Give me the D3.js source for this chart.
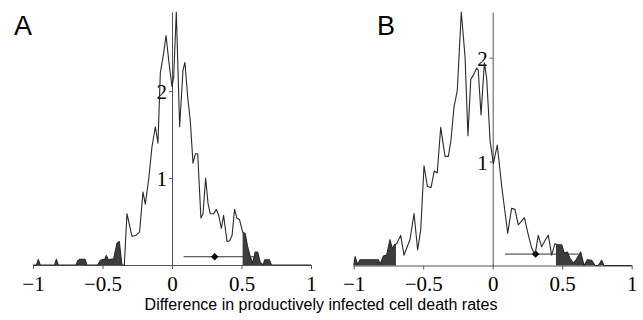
<!DOCTYPE html>
<html>
<head>
<meta charset="utf-8">
<script src="https://cdn.jsdelivr.net/npm/d3@7"></script>
<style>
  html, body { margin: 0; padding: 0; background: #fff; }
  svg { display: block; }
</style>
</head>
<body>
<div id="chart"></div>
<script>
// tick values shared by both panels
const xTicks = [-1, -0.5, 0, 0.5, 1];
const yTicks = [1, 2];

// panel A: density of the difference
const aX = [-1, -0.975, -0.962, -0.948, -0.845, -0.832, -0.818, -0.69, -0.678, -0.665, -0.625, -0.612,
  -0.535, -0.515, -0.5, -0.485, -0.473, -0.458, -0.44, -0.42, -0.396, -0.379, -0.36, -0.343,
  -0.324, -0.288, -0.26, -0.233, -0.209, -0.192, -0.168, -0.144, -0.12, -0.101, -0.084, -0.06,
  -0.043, -0.024, 0, 0.012, 0.031, 0.055, 0.079, 0.093, 0.113, 0.132, 0.151, 0.168, 0.185,
  0.208, 0.223, 0.242, 0.259, 0.275, 0.3, 0.319, 0.336, 0.355, 0.371, 0.396, 0.415, 0.432,
  0.45, 0.467, 0.486, 0.508, 0.527, 0.544, 0.563, 0.58, 0.599, 0.616, 0.635, 0.655, 0.668,
  0.7, 0.715, 1];
const aY = [0, 0, 0.065, 0, 0, 0.065, 0, 0, 0.05, 0.065, 0.065, 0,
  0, 0.05, 0.065, 0.06, 0.11, 0.06, 0.065, 0.07, 0.25, 0.27, 0, 0,
  0.59, 0.33, 0.34, 0.38, 0.84, 0.7, 0.98, 1.36, 1.59, 1.4, 2.21, 2.44,
  2.64, 2.36, 2.05, 2.16, 2.91, 1.59, 2.24, 2.33, 1.93, 1.65, 1.17, 1.28, 1.28,
  0.54, 0.59, 1.0, 0.71, 0.59, 0.59, 0.64, 0.57, 0.42, 0.57, 0.27, 0.28, 0.34,
  0.64, 0.54, 0.52, 0.38, 0.36, 0.21, 0.1, 0.02, 0.15, 0.15, 0.03, 0, 0.06,
  0.06, 0, 0];
const aTails = [-0.343, 0.508];
const aCI = [0.084, 0.59];
const aMean = 0.307;
const aCIy = 0.095;

// panel B
const bX = [-1, -0.99, -0.972, -0.955, -0.823, -0.81, -0.787, -0.763, -0.739, -0.722, -0.708, -0.691,
  -0.662, -0.638, -0.615, -0.595, -0.566, -0.54, -0.518, -0.494, -0.47, -0.444, -0.42, -0.399,
  -0.374, -0.343, -0.319, -0.3, -0.278, -0.255, -0.226, -0.199, -0.178, -0.158, -0.14, -0.115,
  -0.104, -0.084, -0.06, -0.043, -0.019, 0.005, 0.033, 0.065, 0.108, 0.136, 0.16, 0.184,
  0.228, 0.257, 0.28, 0.304, 0.328, 0.352, 0.376, 0.4, 0.424, 0.448, 0.467, 0.496, 0.515,
  0.537, 0.556, 0.58, 0.6, 0.633, 0.657, 0.681, 0.712, 0.736, 0.76, 0.784, 0.8, 1];
const bY = [0, 0.087, 0.01, 0.055, 0.055, 0.015, 0.09, 0.1, 0.25, 0.16, 0.2, 0.21,
  0.29, 0.1, 0.18, 0.25, 0.5, 0.15, 0.34, 0.96, 0.76, 0.75, 0.91, 0.89,
  1.33, 1.05, 1.05, 1.21, 1.53, 1.68, 2.44, 2.01, 1.25, 1.79, 1.83, 1.9,
  1.88, 1.45, 1.95, 1.8, 1.2, 0.98, 1.16, 0.76, 0.31, 0.55, 0.54, 0.39,
  0.46, 0.29, 0.17, 0.1, 0.29, 0.18, 0.24, 0.29, 0.1, 0.21, 0.2, 0.2, 0.12,
  0.13, 0.07, 0.02, 0.055, 0.13, 0, 0.055, 0.05, 0, 0, 0.05, 0, 0];
const bTails = [-0.696, 0.455];
const bCI = [0.088, 0.616];
const bMean = 0.309;
const bCIy = 0.11;

const width = 643, height = 320;
const serif = "'Liberation Serif', 'Times New Roman', serif";
const sans = "'Liberation Sans', Arial, sans-serif";

const svg = d3.select("#chart").append("svg")
  .attr("width", width)
  .attr("height", height);

const panels = [
  {letter: "A", letterX: 14, xRange: [33, 311], yRange: [265, 12], yMax: 2.91,
    xs: aX, ys: aY, tails: aTails, ci: aCI, mean: aMean, ciY: aCIy},
  {letter: "B", letterX: 377, xRange: [353.7, 631.7], yRange: [265.5, 12], yMax: 2.44,
    xs: bX, ys: bY, tails: bTails, ci: bCI, mean: bMean, ciY: bCIy}
];

function fmt(d) {
  return d < 0 ? "\u2212" + Math.abs(d) : String(d);
}

function drawPanel(p) {
  const x = d3.scaleLinear().domain([-1, 1]).range(p.xRange);
  const y = d3.scaleLinear().domain([0, p.yMax]).range(p.yRange);
  const pts = p.xs.map((v, i) => [v, p.ys[i]]);
  const g = svg.append("g");

  // x axis
  const xAxis = g.append("g")
    .attr("transform", `translate(0,${y(0)})`)
    .call(d3.axisBottom(x).tickValues(xTicks).tickFormat(fmt).tickSize(4).tickSizeOuter(0).tickPadding(7));
  // y axis through zero
  const yAxis = g.append("g")
    .attr("transform", `translate(${x(0)},0)`)
    .call(d3.axisLeft(y).tickValues(yTicks).tickFormat(d3.format("d")).tickSize(3).tickSizeOuter(0).tickPadding(2));

  [xAxis, yAxis].forEach(ax => {
    ax.select(".domain").attr("stroke", "#555");
    ax.selectAll(".tick line").attr("stroke", "#555");
    ax.selectAll("text")
      .attr("fill", "#000")
      .style("font-family", serif)
      .style("font-size", "21px");
  });
  yAxis.selectAll("text").attr("dy", "0.36em");

  // confidence interval with mean
  g.append("line")
    .attr("x1", x(p.ci[0])).attr("x2", x(p.ci[1]))
    .attr("y1", y(p.ciY)).attr("y2", y(p.ciY))
    .attr("stroke", "#333").attr("stroke-width", 1);
  g.append("path")
    .attr("d", d3.symbol(d3.symbolSquare, 28)())
    .attr("transform", `translate(${x(p.mean)},${y(p.ciY)}) rotate(45)`)
    .attr("fill", "#000");

  // shaded tails
  const clipId = "tails" + p.letter;
  svg.append("clipPath").attr("id", clipId)
    .selectAll("rect")
    .data([[-1, p.tails[0]], [p.tails[1], 1]])
    .join("rect")
    .attr("x", d => x(d[0]))
    .attr("width", d => x(d[1]) - x(d[0]))
    .attr("y", 0)
    .attr("height", height);

  const area = d3.area()
    .x(d => x(d[0]))
    .y0(y(0))
    .y1(d => y(d[1]));
  g.append("path")
    .datum(pts)
    .attr("d", area)
    .attr("clip-path", `url(#${clipId})`)
    .attr("fill", "#3c3c3c");

  const line = d3.line()
    .x(d => x(d[0]))
    .y(d => y(d[1]));
  g.append("path")
    .datum(pts)
    .attr("d", line)
    .attr("fill", "none")
    .attr("stroke", "#2a2a2a")
    .attr("stroke-width", 1.1)
    .attr("stroke-linejoin", "round");

  g.append("text")
    .attr("x", p.letterX)
    .attr("y", 35)
    .style("font-family", sans)
    .style("font-size", "27px")
    .text(p.letter);
}

panels.forEach(drawPanel);

svg.append("text")
  .attr("x", 321)
  .attr("y", 310)
  .attr("text-anchor", "middle")
  .style("font-family", sans)
  .style("font-size", "16px")
  .text("Difference in productively infected cell death rates");
</script>
</body>
</html>
